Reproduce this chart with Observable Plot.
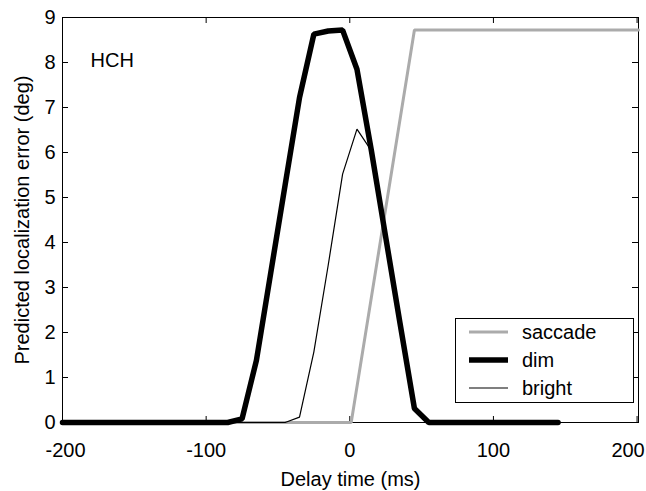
<!DOCTYPE html>
<html>
<head>
<meta charset="utf-8">
<script src="https://cdn.jsdelivr.net/npm/d3@7"></script>
<script src="https://cdn.jsdelivr.net/npm/@observablehq/plot@0.6"></script>
<style>
  html, body { margin: 0; padding: 0; background: #fff; }
  #wrap { position: relative; width: 646px; height: 491px; font-family: "Liberation Sans", Arial, Helvetica, sans-serif; }
  #wrap svg { display: block; }
  #legend { position: absolute; left: 455px; top: 318px; }
</style>
</head>
<body>
<div id="wrap"></div>
<script>
// ---- data ----
const xTicks = [-200, -100, 0, 100, 200];
const xTickLabels = ["-200", "-100", "0", "100", "200"];
const yTicks = [0, 1, 2, 3, 4, 5, 6, 7, 8, 9];
const yTickLabels = ["0", "1", "2", "3", "4", "5", "6", "7", "8", "9"];

const saccadeX = [-200, 1, 45, 201];
const saccadeY = [0, 0, 8.72, 8.72];

const dimX = [-200, -85, -75, -65, -55, -45, -35, -25, -15, -5, 5, 15, 25, 35, 45, 55, 145];
const dimY = [0, 0, 0.08, 1.38, 3.33, 5.28, 7.22, 8.63, 8.70, 8.72, 7.85, 6.05, 4.12, 2.2, 0.31, 0, 0];

const brightX = [-200, -45, -35, -25, -15, -5, 5, 15, 25, 35, 45, 55, 145];
const brightY = [0, 0, 0.12, 1.57, 3.5, 5.52, 6.52, 6.04, 4.12, 2.2, 0.31, 0, 0];

const seriesNames = ["saccade", "dim", "bright"];
const panelLabel = "HCH";
const xLabel = "Delay time (ms)";
const yLabel = "Predicted localization error (deg)";

// ---- build tables ----
const toRows = (xs, ys) => xs.map((x, i) => ({x, y: ys[i]}));
const saccade = toRows(saccadeX, saccadeY);
const dim = toRows(dimX, dimY);
const bright = toRows(brightX, brightY);

const W = 646, H = 491;
const mL = 62, mR = 8, mT = 17, mB = 69;
const plotW = W - mL - mR, plotH = H - mT - mB;
const tickLen = 6;
const FONT = "Liberation Sans, Arial, Helvetica, sans-serif";
const fmtX = d => xTickLabels[xTicks.indexOf(d)];
const fmtY = d => yTickLabels[yTicks.indexOf(d)];

const chart = Plot.plot({
  width: W,
  height: H,
  marginLeft: mL,
  marginRight: mR,
  marginTop: mT,
  marginBottom: mB,
  style: {fontFamily: FONT, fontSize: "20px", color: "black", background: "white"},
  x: {domain: [-200, 201]},
  y: {domain: [0, 9]},
  marks: [
    Plot.frame({stroke: "black", strokeWidth: 1}),
    // inward ticks, bottom/top
    Plot.tickX(xTicks, {x: d => d, insetTop: plotH - tickLen, stroke: "black"}),
    Plot.tickX(xTicks, {x: d => d, insetBottom: plotH - tickLen, stroke: "black"}),
    // inward ticks, left/right
    Plot.tickY(yTicks, {y: d => d, insetRight: plotW - tickLen, stroke: "black"}),
    Plot.tickY(yTicks, {y: d => d, insetLeft: plotW - tickLen, stroke: "black"}),
    Plot.axisX({ticks: xTicks.slice(1, -1), tickSize: 0, tickPadding: 20, label: null, fontSize: 20, tickFormat: fmtX}),
    Plot.axisX({ticks: xTicks.slice(0, 1), tickSize: 0, tickPadding: 20, label: null, fontSize: 20, tickFormat: fmtX, dx: 3}),
    Plot.axisX({ticks: xTicks.slice(-1), tickSize: 0, tickPadding: 20, label: null, fontSize: 20, tickFormat: fmtX, dx: -9}),
    Plot.axisY({ticks: yTicks, tickSize: 0, tickPadding: 7, label: null, fontSize: 20, tickFormat: fmtY}),
    // series
    Plot.line(saccade, {x: "x", y: "y", stroke: "#ababab", strokeWidth: 3, strokeLinejoin: "miter"}),
    Plot.line(dim, {x: "x", y: "y", stroke: "black", strokeWidth: 5.5, strokeLinejoin: "miter"}),
    Plot.line(bright, {x: "x", y: "y", stroke: "black", strokeWidth: 1.2, strokeLinejoin: "miter"}),
    // texts
    Plot.text([panelLabel], {text: d => d, frameAnchor: "top-left", dx: 28, dy: 43,
      textAnchor: "start", lineAnchor: "middle", fontSize: 20, fill: "black"}),
    Plot.text([xLabel], {text: d => d, frameAnchor: "bottom", dy: 57,
      textAnchor: "middle", lineAnchor: "middle", fontSize: 20, fill: "black"}),
    Plot.text([yLabel], {text: d => d, frameAnchor: "left", dx: -40, rotate: -90,
      textAnchor: "middle", lineAnchor: "middle", fontSize: 20, fill: "black"})
  ]
});

const wrap = document.getElementById("wrap");
wrap.appendChild(chart);

// ---- legend (overlay inside plot area) ----
const legendStyles = [
  {stroke: "#ababab", width: 3},
  {stroke: "black", width: 5.5},
  {stroke: "black", width: 1.2}
];
const lw = 178, lh = 84;
const leg = d3.create("svg")
  .attr("id", "legend")
  .attr("width", lw + 1)
  .attr("height", lh + 1)
  .style("font-family", FONT)
  .style("font-size", "20px");
leg.append("rect")
  .attr("x", 0.5).attr("y", 0.5)
  .attr("width", lw).attr("height", lh)
  .attr("fill", "white").attr("stroke", "black");
seriesNames.forEach((name, i) => {
  const cy = 14 + i * 28;
  leg.append("line")
    .attr("x1", 14).attr("x2", 53)
    .attr("y1", cy).attr("y2", cy)
    .attr("stroke", legendStyles[i].stroke)
    .attr("stroke-width", legendStyles[i].width);
  leg.append("text")
    .attr("x", 67).attr("y", cy)
    .attr("dy", "0.35em")
    .attr("fill", "black")
    .text(name);
});
wrap.appendChild(leg.node());
</script>
</body>
</html>
